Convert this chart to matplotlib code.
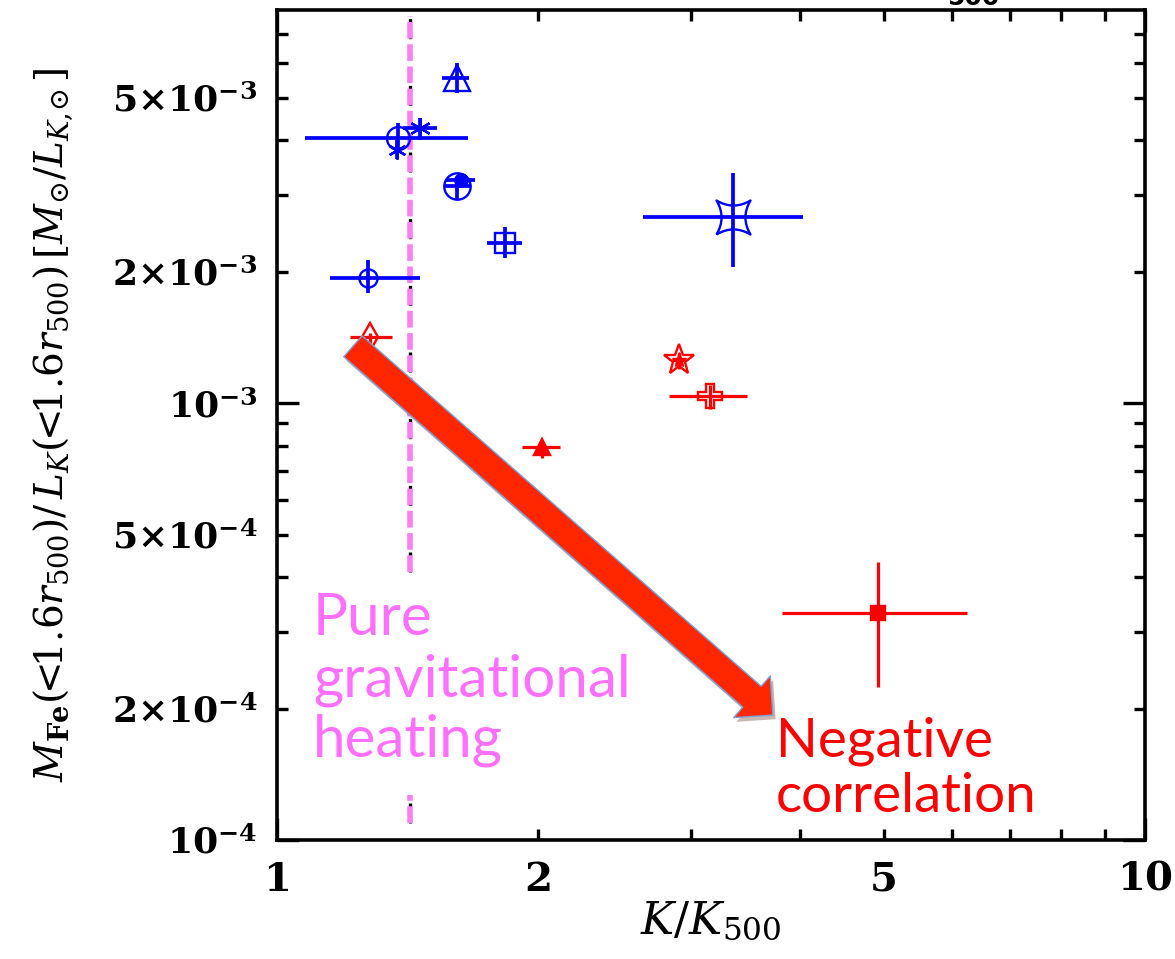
import numpy as np
import matplotlib
matplotlib.use("Agg")
import matplotlib.pyplot as plt
import matplotlib.patheffects as pe
from matplotlib.path import Path

# ---- values -----------------------------------------------------------------
# blue sample: K/K500, M_Fe/L_K and the ends of the error bars
blue_k     = [1.612, 1.379, 1.375, 1.461, 1.612, 1.630, 1.831, 1.273, 3.353]
blue_ratio = [5.54e-3, 4.04e-3, 3.79e-3, 4.26e-3, 3.15e-3, 3.24e-3, 2.33e-3, 1.94e-3, 2.67e-3]
blue_k_lo  = [1.549, 1.077, 1.375, 1.397, 1.560, 1.565, 1.746, 1.151, 2.640]
blue_k_hi  = [1.664, 1.659, 1.375, 1.528, 1.670, 1.690, 1.915, 1.461, 4.040]
blue_r_lo  = [5.12e-3, 3.84e-3, 3.62e-3, 4.00e-3, 2.94e-3, 3.24e-3, 2.15e-3, 1.79e-3, 2.05e-3]
blue_r_hi  = [6.00e-3, 4.37e-3, 4.00e-3, 4.49e-3, 3.24e-3, 3.24e-3, 2.53e-3, 2.13e-3, 3.36e-3]

# red sample
red_k     = [1.280, 2.020, 2.904, 3.154, 4.924]
red_ratio = [1.415e-3, 7.93e-4, 1.254e-3, 1.037e-3, 3.31e-4]
red_k_lo  = [1.214, 1.915, 2.850, 2.830, 3.820]
red_k_hi  = [1.357, 2.119, 2.950, 3.480, 6.240]
red_r_lo  = [1.34e-3, 7.48e-4, 1.20e-3, 0.97e-3, 2.24e-4]
red_r_hi  = [1.45e-3, 8.14e-4, 1.30e-3, 1.10e-3, 4.33e-4]

# pure gravitational heating line (drawn in two pieces around the label)
K_GRAV = 1.423
grav_spans = [(4.11e-4, 7.72e-3), (1.094e-4, 1.268e-4)]

# trend arrow, tail -> tip
arrow_tail = (1.2234, 1.350e-3)
arrow_tip = (3.727, 1.932e-4)

xticks_major = [1, 10]
xticks_minor = [2, 3, 4, 5, 6, 7, 8, 9]
xlabels_major = ["1", "10"]
xlabels_minor = ["2", "", "", "5", "", "", "", ""]
yticks_major = [1e-4, 1e-3]
yticks_minor = [2e-4, 3e-4, 4e-4, 5e-4, 6e-4, 7e-4, 8e-4, 9e-4,
                2e-3, 3e-3, 4e-3, 5e-3, 6e-3, 7e-3]
ylabels_major = [r"$\mathbf{10^{-4}}$", r"$\mathbf{10^{-3}}$"]
ylabels_minor = [r"$\mathbf{2{\times}10^{-4}}$", "", "", r"$\mathbf{5{\times}10^{-4}}$", "", "", "", "",
                 r"$\mathbf{2{\times}10^{-3}}$", "", "", r"$\mathbf{5{\times}10^{-3}}$", "", ""]

BLUE = "#0000FF"
RED = "#FF0000"
PINK = "#FA7FF3"
PINK_TXT = "#FF70FF"

plt.rcParams.update({
    "font.family": "DejaVu Serif",
    "mathtext.fontset": "dejavuserif",
})


def astroid(c=0.4):
    """square with concave sides (4-cusp star)"""
    verts = [(-1, -1), (0, -c), (1, -1), (c, 0), (1, 1), (0, c), (-1, 1), (-c, 0), (-1, -1)]
    codes = [Path.MOVETO] + [Path.CURVE3] * 8
    return Path(verts, codes)


AST = (6, 2, 0)
# marker, size (pt), filled
blue_style = [("^", 19, False), ("o", 16.5, False), (AST, 13, False), (AST, 15, False),
              ("o", 19, False), ("o", 9, True), ("s", 15, False), ("o", 13, False),
              (astroid(), 24.5, False)]
red_style = [("d", 14, False), ("^", 12, True), ("*", 23, False), ("P", 17, False),
             ("s", 9.5, True)]


def draw_group(ax, k, r, klo, khi, rlo, rhi, styles, color, elw):
    k = np.array(k); r = np.array(r)
    xerr = [k - np.array(klo), np.array(khi) - k]
    yerr = [r - np.array(rlo), np.array(rhi) - r]
    ax.errorbar(k, r, xerr=xerr, yerr=yerr, fmt="none", ecolor=color, elinewidth=elw,
                capsize=0, zorder=3)
    for xi, yi, (m, ms, filled) in zip(k, r, styles):
        ax.plot([xi], [yi], marker=m, ms=ms, mec=color, mfc=color if filled else "none",
                mew=1.7, ls="none", zorder=4)


fig = plt.figure(figsize=(11.75, 9.59), dpi=100)
ax = fig.add_axes([0.2357, 0.1241, 0.7387, 0.8655])
ax.set_xscale("log"); ax.set_yscale("log")
ax.set_xlim(1, 10)
ax.set_ylim(1e-4, 7.95e-3)

# gravitational heating line: black dots under pink dashes
for lo, hi in grav_spans:
    ax.plot([K_GRAV, K_GRAV], [lo, hi], color="k", lw=2.4, ls=(0, (1, 4)), zorder=2)
    ax.plot([K_GRAV, K_GRAV], [lo, hi], color=PINK, lw=4.0, ls=(0, (3, 1.0)), zorder=2.1)

draw_group(ax, blue_k, blue_ratio, blue_k_lo, blue_k_hi, blue_r_lo, blue_r_hi,
           blue_style, BLUE, 2.7)
draw_group(ax, red_k, red_ratio, red_k_lo, red_k_hi, red_r_lo, red_r_hi,
           red_style, RED, 2.3)
# the red star has a small filled one inside
ax.plot([red_k[2]], [red_ratio[2]], marker="*", ms=11, color=RED, ls="none", zorder=4)

# arrow
ann = ax.annotate("", xy=arrow_tip, xytext=arrow_tail,
                  arrowprops=dict(arrowstyle="simple,head_length=1.0,head_width=2.0,tail_width=1.0",
                                  mutation_scale=20, fc="#FF2600", ec="#7AA2D6", lw=1.0,
                                  shrinkA=0, shrinkB=0), zorder=5)
ann.arrow_patch.set_path_effects([pe.SimplePatchShadow(offset=(2, -3), alpha=0.3), pe.Normal()])


def axfrac(xp, yp):
    # pixel layout of the reference -> axes fraction
    return (xp - 277) / 868, (840 - yp) / 830


for line, yb in zip(["Pure", "gravitational", "heating"], [635, 697, 757]):
    ax.text(*axfrac(313, yb), line, transform=ax.transAxes, family="Lato", fontsize=42,
            color=PINK_TXT, ha="left", va="baseline", zorder=6)
for line, yb in zip(["Negative", "correlation"], [757, 812]):
    ax.text(*axfrac(776, yb), line, transform=ax.transAxes, family="Lato", fontsize=39.5,
            color=RED, ha="left", va="baseline", zorder=6)

# ticks
ax.set_xticks(xticks_major, xlabels_major)
ax.set_xticks(xticks_minor, xlabels_minor, minor=True)
ax.set_yticks(yticks_major, ylabels_major)
ax.set_yticks(yticks_minor, ylabels_minor, minor=True)
ax.tick_params(axis="both", which="both", direction="in", top=True, right=True, width=2.4)
ax.tick_params(which="major", length=16)
ax.tick_params(which="minor", length=8)
ax.tick_params(axis="x", which="both", labelsize=29, pad=15)
ax.tick_params(axis="y", which="both", labelsize=26, pad=14)
for lab in ax.get_xticklabels(which="both"):
    lab.set_fontweight("bold")
for s in ax.spines.values():
    s.set_linewidth(2.6)

ax.set_xlabel(r"$K/K_{500}$", fontsize=32)
ax.xaxis.set_label_coords(0.5, -0.072)
ax.set_ylabel(r"$M_{\mathbf{Fe}}(\!\!<\!\!1.6r_{500})/\,L_K(\!\!<\!\!1.6r_{500})\,"
              r"[M_{\odot}/L_{K,\!\!\odot}]$", fontsize=28)
ax.yaxis.set_label_coords(-0.233, 0.5)

# bit of a cut-off heading at the very top, as in the original
fig.text(947 / 1175, 1 - 5 / 959, "500", family="DejaVu Sans", fontweight="bold",
         fontsize=18, ha="left", va="baseline")

fig.savefig("out.png", dpi=100)
